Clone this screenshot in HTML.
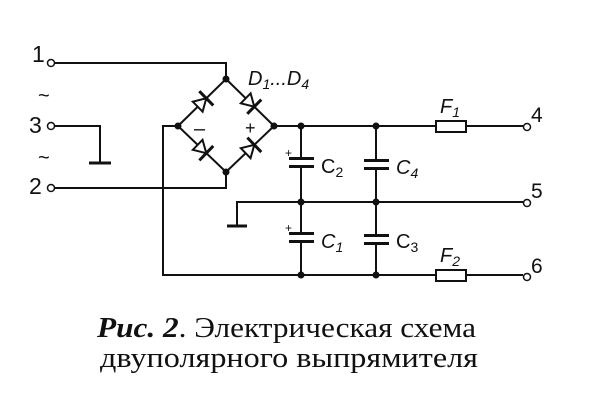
<!DOCTYPE html>
<html><head><meta charset="utf-8"><style>
html,body{margin:0;padding:0;background:#fff;}
svg{display:block;}
</style></head><body>
<svg width="600" height="403" viewBox="0 0 600 403" xmlns="http://www.w3.org/2000/svg">
<g stroke="#111" stroke-width="2" fill="none">
<polyline points="54,63 226,63 226,79"/>
<polyline points="54,126 100,126 100,162"/>
<line x1="89" y1="163" x2="111" y2="163" stroke-width="3"/>
<polyline points="54,188 226,188 226,172"/>
<polygon points="226,79 274,126 226,172 178,126"/>
<polyline points="178,126 163,126 163,275 523,275"/>
<line x1="274" y1="126" x2="523" y2="126"/>
<polyline points="237,225 237,202 523,202"/>
<line x1="227" y1="226" x2="247" y2="226" stroke-width="3"/>
<line x1="301" y1="126" x2="301" y2="158"/>
<line x1="301" y1="166" x2="301" y2="233"/>
<line x1="301" y1="241" x2="301" y2="275"/>
<line x1="376" y1="126" x2="376" y2="160"/>
<line x1="376" y1="168" x2="376" y2="235"/>
<line x1="376" y1="243" x2="376" y2="275"/>
</g>
<g fill="#111">
<rect x="289" y="157" width="25" height="3"/><rect x="289" y="165" width="25" height="3"/>
<rect x="289" y="232" width="25" height="3"/><rect x="289" y="240" width="25" height="3"/>
<rect x="364" y="159" width="25" height="3"/><rect x="364" y="167" width="25" height="3"/>
<rect x="364" y="234" width="25" height="3"/><rect x="364" y="242" width="25" height="3"/>
<circle cx="226" cy="79" r="3.5"/><circle cx="178" cy="126" r="3.5"/><circle cx="274" cy="126" r="3.5"/><circle cx="226" cy="172" r="3.5"/>
<circle cx="301" cy="126" r="3.5"/><circle cx="376" cy="126" r="3.5"/>
<circle cx="301" cy="202" r="3.5"/><circle cx="376" cy="202" r="3.5"/>
<circle cx="301" cy="275" r="3.5"/><circle cx="376" cy="275" r="3.5"/>
</g>
<rect x="436" y="121" width="30" height="11" fill="#fff" stroke="#111" stroke-width="2"/>
<rect x="436" y="270" width="30" height="11" fill="#fff" stroke="#111" stroke-width="2"/>
<g fill="#fff" stroke="#111" stroke-width="1.5">
<circle cx="51" cy="63" r="3.5"/><circle cx="51" cy="126" r="3.5"/><circle cx="51" cy="188" r="3.5"/>
<circle cx="527" cy="127" r="3.5"/><circle cx="527" cy="203" r="3.5"/><circle cx="527" cy="277" r="3.5"/>
</g>
<defs>
<g id="d"><polygon points="-6,-7 -6,7 6,0" fill="#fff" stroke="#111" stroke-width="2"/><line x1="6" y1="-10" x2="6" y2="10" stroke="#111" stroke-width="3"/></g>
</defs>
<use href="#d" transform="translate(202,102.5) rotate(-44.4)"/>
<use href="#d" transform="translate(250,102.5) rotate(44.4)"/>
<use href="#d" transform="translate(202,149) rotate(44)"/>
<use href="#d" transform="translate(250,149) rotate(-44)"/>
<g font-family="Liberation Sans, sans-serif" fill="#111">
<text x="194" y="135" font-size="20">–</text>
<text x="245" y="134" font-size="18">+</text>
<text x="285" y="157" font-size="12">+</text>
<text x="285" y="232" font-size="12">+</text>
<text x="32" y="62" font-size="23">1</text>
<text x="29" y="133" font-size="23">3</text>
<text x="29" y="194" font-size="23">2</text>
<text x="38" y="102" font-size="20">~</text>
<text x="38" y="164" font-size="20">~</text>
<text x="531" y="122" font-size="21">4</text>
<text x="531" y="198" font-size="21">5</text>
<text x="531" y="273" font-size="21">6</text>
<text x="248" y="85" font-size="20" font-style="italic">D<tspan font-size="14" dy="4">1</tspan><tspan dy="-4">...D</tspan><tspan font-size="14" dy="4">4</tspan></text>
<text x="321" y="173" font-size="20">C<tspan font-size="14" dy="4">2</tspan></text>
<text x="396" y="174" font-size="20" font-style="italic">C<tspan font-size="14" dy="4">4</tspan></text>
<text x="321" y="248" font-size="20" font-style="italic">C<tspan font-size="14" dy="4">1</tspan></text>
<text x="396" y="248" font-size="20">C<tspan font-size="14" dy="4">3</tspan></text>
<text x="440" y="113" font-size="20" font-style="italic">F<tspan font-size="14" dy="4">1</tspan></text>
<text x="440" y="262" font-size="20" font-style="italic">F<tspan font-size="14" dy="4">2</tspan></text>
</g>
<g font-family="Liberation Serif, serif" fill="#111" font-size="28">
<text x="97" y="337" textLength="379" lengthAdjust="spacingAndGlyphs"><tspan font-weight="bold" font-style="italic">Рис. 2</tspan>. Электрическая схема</text>
<text x="100" y="367" textLength="378" lengthAdjust="spacingAndGlyphs">двуполярного выпрямителя</text>
</g>
</svg>
</body></html>
